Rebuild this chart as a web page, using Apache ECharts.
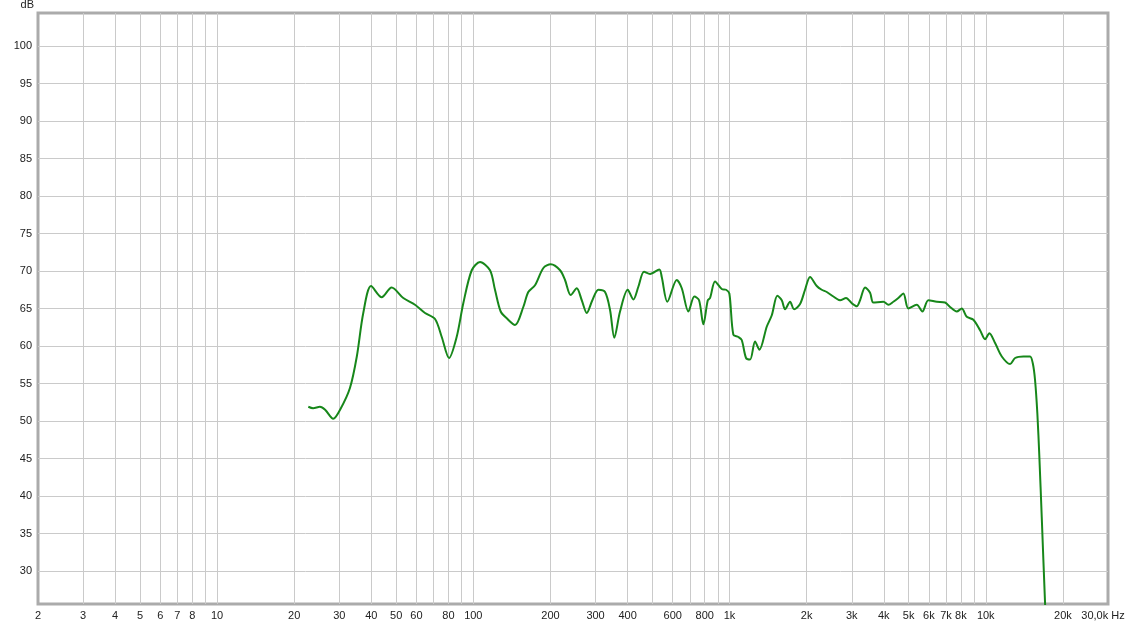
<!DOCTYPE html>
<html>
<head>
<meta charset="utf-8">
<script src="https://cdn.jsdelivr.net/npm/echarts@6/dist/echarts.min.js"></script>
<style>
html,body{margin:0;padding:0;background:#fff;}
#chart{width:1126px;height:624px;}
</style>
</head>
<body>
<div id="chart"></div>
<script>
// Frequency response (Hz, dB)
const freqHz = [22.7,23.7,25.2,26.4,28.4,30.2,33.0,35.1,37.2,39.9,43.9,48.0,53.3,59.2,64.8,70.9,75.3,80.4,86.1,91.4,98.6,
  106.2,116.2,121.5,127.9,135.0,145.5,156.7,163.9,174.1,187.7,200.6,218.1,228.0,240.0,253.3,265.0,277.2,291.5,307.6,326.7,341.7,355.1,373.8,
  400.6,421.3,440.7,463.8,489.5,532.2,543.8,571.9,622.3,651.0,690.8,729.1,760.5,790.5,822.4,839.5,878.1,932.5,969.2,998.4,
  1035,1083,1116,1160,1203,1258,1308,1398,1462,1537,1599,1647,1723,1786,1885,1971,2062,2190,2290,2396,2543,2701,2850,3000,
  3138,3232,3381,3536,3642,3986,4168,4359,4559,4769,4989,5379,5656,5971,6441,6937,7256,7707,8060,8431,8946,9502,9938,
  10330,10875,11550,12445,13015,14030,14890,15260,15570,15900,16190,16540,17040,17200];
const splDb = [51.9,51.7,51.9,51.5,50.3,51.5,54.4,58.6,64.4,68.0,66.5,67.8,66.4,65.5,64.4,63.6,61.2,58.4,61.2,65.7,70.1,
  71.2,70.1,67.5,64.6,63.7,62.8,65.2,67.2,68.1,70.4,70.9,70.1,68.8,66.8,67.7,66.1,64.4,66.1,67.5,67.2,64.8,61.1,64.6,
  67.5,66.2,67.9,69.9,69.6,70.2,69.2,65.9,68.8,67.7,64.6,66.6,66.1,62.9,66.1,66.4,68.6,67.6,67.5,67.0,
  61.5,61.2,60.8,58.4,58.2,60.6,59.5,62.6,64.1,66.7,66.1,64.9,65.9,64.9,65.6,67.5,69.2,68.0,67.5,67.2,66.6,66.1,66.4,65.7,
  65.3,66.1,67.8,67.1,65.8,65.9,65.5,65.9,66.4,67.0,65.0,65.5,64.6,66.1,65.9,65.8,65.2,64.6,65.0,63.9,63.5,62.1,60.9,
  61.7,60.4,58.6,57.6,58.4,58.6,58.6,57.7,55.5,51.0,45.2,37.2,25.7,23.0];

const gridHz = [3,4,5,6,7,8,9,10,20,30,40,50,60,70,80,90,100,200,300,400,500,600,700,800,900,
  1000,2000,3000,4000,5000,6000,7000,8000,9000,10000,20000];
const xLabelHz = [2,3,4,5,6,7,8,10,20,30,40,50,60,80,100,200,300,400,600,800,1000,
  2000,3000,4000,5000,6000,7000,8000,10000,20000,30000];
const xLabelText = ['2','3','4','5','6','7','8','10','20','30','40','50','60','80','100','200','300','400','600','800','1k',
  '2k','3k','4k','5k','6k','7k','8k','10k','20k','30,0k Hz'];
const yTicks = [30,35,40,45,50,55,60,65,70,75,80,85,90,95,100];

const lg = v => Math.log10(v);
const chart = echarts.init(document.getElementById('chart'), null, {renderer: 'canvas'});
const labelFont = {fontFamily: 'Liberation Sans, Arial, sans-serif', fontSize: 11, color: '#222'};

chart.setOption({
  animation: false,
  backgroundColor: '#ffffff',
  grid: {left: 38, right: 18, top: 13, bottom: 20, containLabel: false, outerBoundsMode: 'none',
    show: true, borderColor: '#ababab', borderWidth: 3, backgroundColor: '#fff'},
  xAxis: {
    type: 'value',
    min: lg(2), max: lg(30000),
    axisLine: {show: false},
    axisTick: {show: false, customValues: gridHz.map(lg)},
    splitLine: {show: true, lineStyle: {color: '#cacaca', width: 1}},
    axisLabel: Object.assign({
      customValues: xLabelHz.map(lg),
      margin: 6,
      hideOverlap: false,
      formatter: function (v) {
        let best = 0, d = Infinity;
        xLabelHz.forEach((h, i) => { const dd = Math.abs(Math.log10(h) - v); if (dd < d) { d = dd; best = i; } });
        return best === xLabelHz.length - 1 ? '{e|' + xLabelText[best] + '}' : xLabelText[best];
      },
      rich: {e: Object.assign({padding: [0, 10, 0, 0]}, labelFont)}
    }, labelFont)
  },
  yAxis: {
    type: 'value',
    min: 25.6, max: 104.4,
    name: 'dB',
    nameLocation: 'end',
    nameGap: 3,
    nameTextStyle: Object.assign({align: 'right', padding: [0, 4, 0, 0]}, labelFont),
    axisLine: {show: false},
    axisTick: {show: false, customValues: yTicks},
    splitLine: {show: true, lineStyle: {color: '#cacaca', width: 1}},
    axisLabel: Object.assign({customValues: yTicks, margin: 6}, labelFont)
  },
  series: [{
    type: 'line',
    data: freqHz.map((f, i) => [lg(f), splDb[i]]),
    showSymbol: false,
    smooth: 0.3,
    clip: true,
    lineStyle: {color: '#17871a', width: 2},
    itemStyle: {color: '#17871a'}
  }]
});
</script>
</body>
</html>
